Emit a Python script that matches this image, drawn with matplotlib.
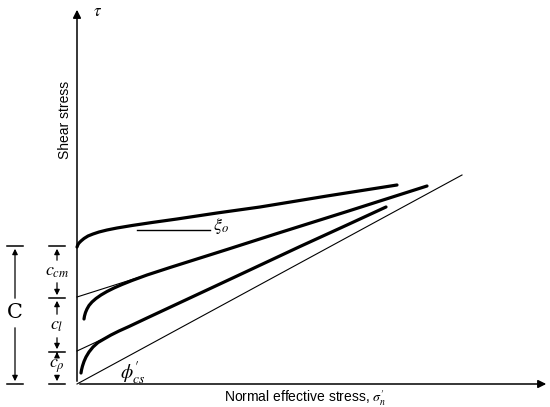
import matplotlib.pyplot as plt

plt.rcParams["font.family"] = ["Liberation Sans", "DejaVu Sans"]
plt.rcParams["mathtext.fontset"] = "stix"

# curve samples (x = normal effective stress, y = shear stress)
upper_x = [0, 1, 2, 4, 7, 11, 16, 22, 30, 40, 55, 75, 100, 140, 183, 250, 320]
upper_y = [137, 139.5, 141, 143, 145.5, 148, 150, 152, 154, 156, 158.5, 161.5, 165, 171, 177, 188, 199]

middle_x = [7, 7.5, 8.5, 10, 12, 15, 19, 24, 30, 37, 45, 55, 70, 93, 150, 200, 270, 350]
middle_y = [65, 68, 71.5, 75, 78.5, 82, 85.5, 89, 92.5, 96, 99.5, 103.5, 109, 116.5, 134.5, 150.5, 172.5, 198]

lower_x = [4, 4.5, 5.5, 7, 9, 12, 16, 21, 27, 34, 42, 52, 70, 100, 160, 223, 270, 309]
lower_y = [11, 14, 18, 22.5, 27, 32, 37, 41.5, 45, 49, 53, 57.5, 66, 80, 108, 137.5, 159, 177]

# straight reference lines
middle_line_x = [0, 62]
middle_line_y = [87, 106.7]
lower_line_x = [0, 38]
lower_line_y = [33, 50.7]
cs_line_x = [0, 385]
cs_line_y = [0, 209]
xi_x = [60, 133]
xi_y = [154, 154]

# heights of the cohesion components on the left
levels = [138, 86, 32, 0]

fig = plt.figure(figsize=(5.5, 4.07), dpi=100)
ax = fig.add_axes([0, 0, 1, 1])
ax.set_xlim(-77, 473)
ax.set_ylim(-23, 384)
ax.axis("off")

# axes with arrows
ax.annotate("", xy=(0, 377), xytext=(0, 0),
            arrowprops=dict(arrowstyle="-|>", lw=1.1, color="black", mutation_scale=12))
ax.annotate("", xy=(472, 0), xytext=(0, 0),
            arrowprops=dict(arrowstyle="-|>", lw=1.1, color="black", mutation_scale=12))

# curves
ax.plot(upper_x, upper_y, color="black", lw=2.3, solid_capstyle="round")
ax.plot(middle_x, middle_y, color="black", lw=2.3, solid_capstyle="round")
ax.plot(lower_x, lower_y, color="black", lw=2.3, solid_capstyle="round")
ax.plot(middle_line_x, middle_line_y, color="black", lw=0.8)
ax.plot(lower_line_x, lower_line_y, color="black", lw=0.8)
ax.plot(cs_line_x, cs_line_y, color="black", lw=0.8)
ax.plot(xi_x, xi_y, color="black", lw=1.0)

# labels
ax.text(136, 158, r"$\xi_o$", fontsize=13, ha="left", va="center")
ax.text(43, 11, r"$\phi^{\prime}_{cs}$", fontsize=14, ha="left", va="center")
ax.text(16, 372, r"$\tau$", fontsize=12, ha="left", va="center")
ax.text(-12, 264, "Shear stress", fontsize=10, rotation=90, ha="center", va="center")
ax.text(228, -14, r"Normal effective stress, $\sigma^{\prime}_{n}$", fontsize=10,
        ha="center", va="center")

arrow = dict(arrowstyle="-|>", lw=0.9, color="black", mutation_scale=8)

# total cohesion C
cx = -62
for y in (levels[0], levels[-1]):
    ax.plot([cx - 8, cx + 8], [y, y], color="black", lw=1.1)
ax.annotate("", xy=(cx, levels[0]), xytext=(cx, 83), arrowprops=arrow)
ax.annotate("", xy=(cx, 0), xytext=(cx, 59), arrowprops=arrow)
ax.text(cx, 71, "C", fontsize=15, family="DejaVu Serif", ha="center", va="center")

# components
kx = -20
for y in levels:
    ax.plot([kx - 8, kx + 8], [y, y], color="black", lw=1.1)
parts = [
    (r"$c_{cm}$", 112, 121, 104),
    (r"$c_l$", 58, 67, 49),
    (r"$c_\rho$", 18, 28, 9),
]
for (label, ymid, ytop, ybot), hi, lo in zip(parts, levels[:-1], levels[1:]):
    ax.annotate("", xy=(kx, hi), xytext=(kx, ytop), arrowprops=arrow)
    ax.annotate("", xy=(kx, lo), xytext=(kx, ybot), arrowprops=arrow)
    ax.text(kx, ymid, label, fontsize=13, ha="center", va="center")

fig.savefig("out.png", dpi=100)
